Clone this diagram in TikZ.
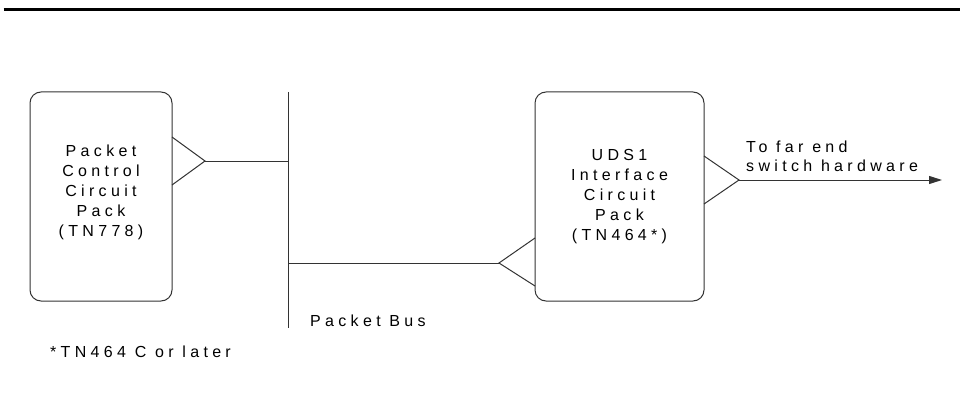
\documentclass[tikz,border=0pt]{standalone}
\usepackage{fontspec}
\setmainfont{Liberation Sans}[LetterSpace=27]
\usetikzlibrary{arrows.meta}
\begin{document}
\begin{tikzpicture}[x=1pt,y=-1pt,
  pack/.style={draw=black!80,line width=1pt,rounded corners=11pt,minimum height=209pt,inner sep=0pt},
  wire/.style={draw=black!80,line width=1pt},
  txt/.style={font=\fontsize{16}{20}\selectfont,inner sep=0pt,align=center,anchor=base},
  ltxt/.style={font=\fontsize{16}{19}\selectfont,inner sep=0pt,align=left,anchor=base west}]
\useasboundingbox (0,0) rectangle (960,409);
% top rule
\coordinate (ruleL) at (3.5,9.5);
\coordinate (ruleR) at (960,9.5);
\draw[line width=3pt] (ruleL) -- (ruleR);
% boxes
\node[pack,minimum width=142pt] (pcc) at (101,196.5) {};
\node[pack,minimum width=169pt] (uds) at (619.5,196.5) {};
\node[txt] (pcctxt) at (101,236.7) {Packet\\Control\\Circuit\\Pack\\(TN778)};
\node[txt] (udstxt) at (619.5,240) {UDS1\\Interface\\Circuit\\Pack\\(TN464*)};
% bus
\coordinate (busT) at (288,92);
\coordinate (busB) at (288,328);
\draw[wire] (busT) -- (busB);
\coordinate (busA) at (288,161);
\coordinate (busC) at (288,263);
% left connector triangle
\coordinate (pccA) at (172,137);
\coordinate (pccB) at (172,185);
\coordinate (pccX) at (205,161);
\draw[wire] (pccA) -- (pccX) -- (pccB);
\draw[wire] (pccX) -- (busA);
% UDS1 left triangle
\coordinate (udsA) at (535,238);
\coordinate (udsB) at (535,286);
\coordinate (udsX) at (499,263);
\draw[wire] (udsA) -- (udsX) -- (udsB);
\draw[wire] (busC) -- (udsX);
% UDS1 right triangle
\coordinate (udsC) at (704,156);
\coordinate (udsD) at (704,204);
\coordinate (udsY) at (739,180);
\coordinate (far) at (942,180);
\draw[wire] (udsC) -- (udsY) -- (udsD);
\draw[wire,-{Triangle[length=13pt,width=8pt]}] (udsY) -- (far);
% labels
\node[ltxt] (farlbl) at (746,171.7) {To far end\\switch hardware};
\node[ltxt] (buslbl) at (310,326) {Packet Bus};
\node[ltxt] (note) at (50,357) {*TN464 C or later};
\end{tikzpicture}
\end{document}
